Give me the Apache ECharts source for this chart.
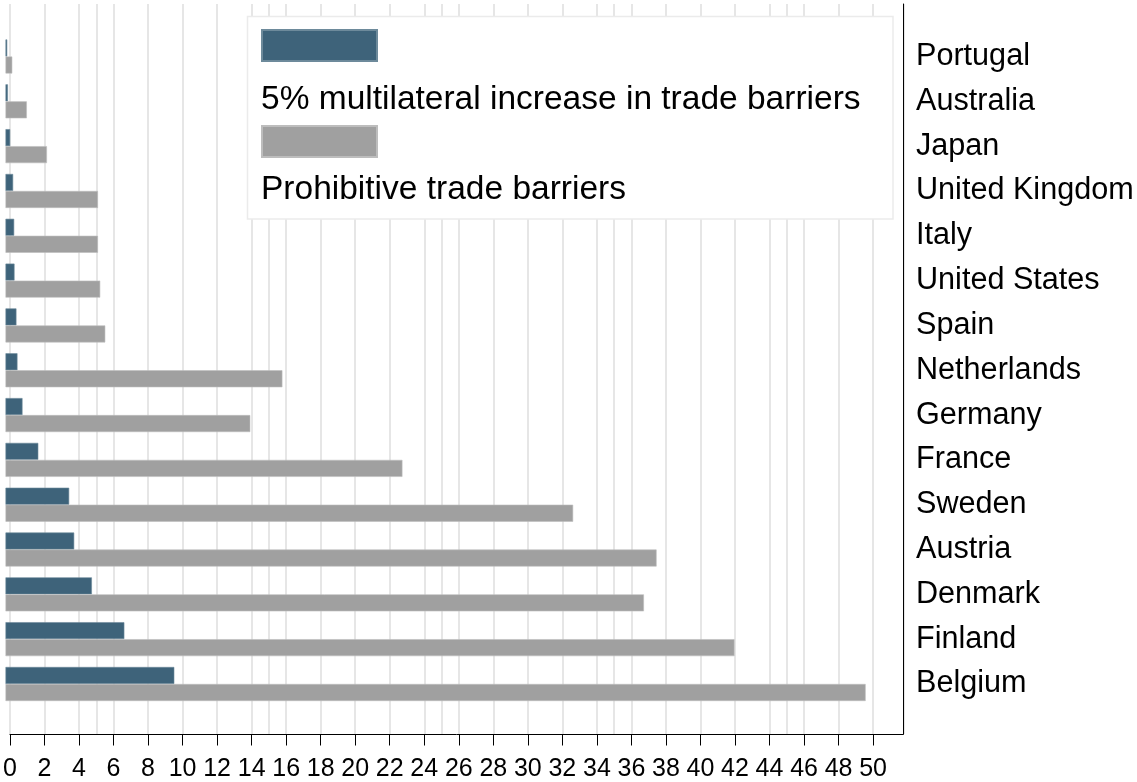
<!DOCTYPE html>
<html>
<head>
<meta charset="utf-8">
<script src="https://cdn.jsdelivr.net/npm/echarts@6/dist/echarts.min.js"></script>
<style>
  html, body { margin: 0; padding: 0; background: #ffffff; }
  #chart { width: 1137px; height: 782px; }
</style>
</head>
<body>
<div id="chart"></div>
<script>
// ---- data (top to bottom) ----
const countries = ['Portugal', 'Australia', 'Japan', 'United Kingdom', 'Italy', 'United States', 'Spain',
  'Netherlands', 'Germany', 'France', 'Sweden', 'Austria', 'Denmark', 'Finland', 'Belgium'];
const multilateral5 = [0.10, 0.14, 0.27, 0.44, 0.50, 0.52, 0.63, 0.69, 0.98, 1.89, 3.67, 3.96, 4.98, 6.85, 9.73];
const prohibitive = [0.39, 1.23, 2.39, 5.33, 5.33, 5.46, 5.75, 15.96, 14.11, 22.88, 32.72, 37.53, 36.80, 42.02, 49.58];
const seriesNames = ['5% multilateral increase in trade barriers', 'Prohibitive trade barriers'];
const xTicks = [0, 2, 4, 6, 8, 10, 12, 14, 16, 18, 20, 22, 24, 26, 28, 30, 32, 34, 36, 38, 40, 42, 44, 46, 48, 50];
const xMin = 0, xMax = 51.75;

const FONT = '"Liberation Sans", Arial, Helvetica, sans-serif';
const BLUE = '#3e637a';
const GRAY = '#a0a0a0';
const GRID_COLOR = '#e6e6e6';

const chart = echarts.init(document.getElementById('chart'), null, { renderer: 'canvas' });

const frame = { left: 5.5, right: 233.7, top: 4, bottom: 47 };
const barGrid = { left: 5.5, right: 233.7, top: 34.1, bottom: 75.6 };

const option = {
  backgroundColor: '#ffffff',
  animation: false,
  textStyle: { fontFamily: FONT },
  grid: [
    Object.assign({}, frame),
    Object.assign({}, barGrid)
  ],
  xAxis: [
    {
      gridIndex: 0, type: 'value', min: xMin, max: xMax, interval: 2,
      axisLine: { show: true, onZero: false, lineStyle: { color: '#000', width: 1 } },
      axisTick: { show: true, length: 11.5, customValues: xTicks, lineStyle: { color: '#000', width: 1 } },
      axisLabel: { show: true, customValues: xTicks, margin: 23, fontSize: 25, color: '#000', fontFamily: FONT },
      splitLine: { show: true, lineStyle: { color: GRID_COLOR, width: 2 } }
    },
    {
      gridIndex: 0, type: 'value', min: xMin, max: xMax, interval: 5, position: 'bottom',
      axisLine: { show: false }, axisTick: { show: false }, axisLabel: { show: false },
      splitLine: { show: true, lineStyle: { color: GRID_COLOR, width: 2 } }
    },
    {
      gridIndex: 1, type: 'value', min: xMin, max: xMax,
      axisLine: { show: false }, axisTick: { show: false }, axisLabel: { show: false },
      splitLine: { show: false }
    }
  ],
  yAxis: [
    {
      gridIndex: 0, type: 'value', position: 'right', min: 0, max: 1,
      axisLine: { show: true, onZero: false, lineStyle: { color: '#000', width: 1 } },
      axisTick: { show: false }, axisLabel: { show: false }, splitLine: { show: false }
    },
    {
      gridIndex: 1, type: 'category', data: countries, inverse: true, position: 'right',
      axisLine: { show: false }, axisTick: { show: false },
      axisLabel: { show: true, margin: 12.7, fontSize: 30.6, color: '#000', fontFamily: FONT },
      splitLine: { show: false }
    }
  ],
  legend: [
    {
      data: seriesNames, orient: 'vertical', left: 261, top: 29, padding: 0,
      itemWidth: 115, itemHeight: 31, itemGap: 63, icon: 'rect',
      formatter: function () { return ''; },
      textStyle: { fontSize: 8 }, z: 20
    },
    {
      data: seriesNames, orient: 'vertical', left: 256, top: 82.5, padding: 0,
      itemWidth: 0, itemHeight: 30, itemGap: 56, icon: 'none',
      textStyle: { fontSize: 33.5, color: '#000', fontFamily: FONT }, z: 20
    }
  ],
  graphic: [
    {
      type: 'rect', z: 10, silent: true,
      shape: { x: 247.5, y: 16.5, width: 645.5, height: 202.5 },
      style: { fill: '#ffffff', stroke: '#ebebeb', lineWidth: 1.5 }
    }
  ],
  series: [
    {
      name: seriesNames[0], type: 'bar', xAxisIndex: 2, yAxisIndex: 1,
      data: multilateral5, barWidth: 17, barGap: '0%',
      itemStyle: { color: BLUE, borderColor: '#6d8a9b', borderWidth: 0.6 }
    },
    {
      name: seriesNames[1], type: 'bar', xAxisIndex: 2, yAxisIndex: 1,
      data: prohibitive, barWidth: 17, barGap: '0%',
      itemStyle: { color: GRAY, borderColor: '#bdbdbd', borderWidth: 0.6 }
    }
  ]
};

chart.setOption(option);
</script>
</body>
</html>
